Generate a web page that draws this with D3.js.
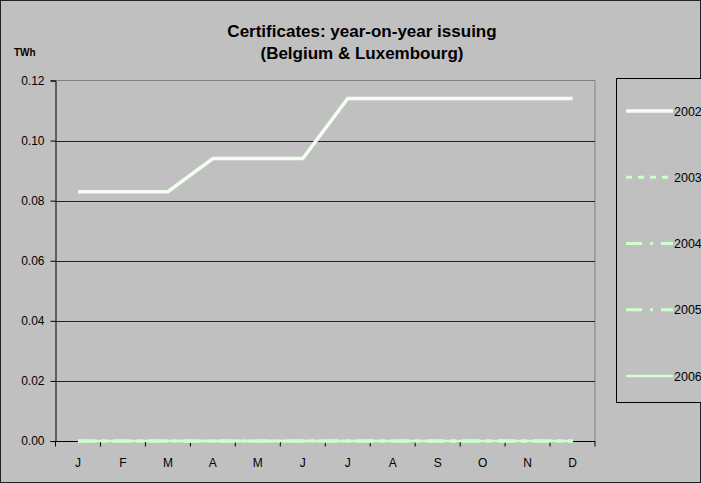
<!DOCTYPE html>
<html>
<head>
<meta charset="utf-8">
<script src="https://cdn.jsdelivr.net/npm/d3@7/dist/d3.min.js"></script>
<style>
  html, body { margin: 0; padding: 0; background: #c0c0c0; }
  svg { display: block; font-family: Arial, "Liberation Sans", sans-serif; }
</style>
</head>
<body>
<svg id="chart" width="701" height="483"></svg>
<script>
const months = ["J","F","M","A","M","J","J","A","S","O","N","D"];
const seriesNames = ["2002","2003","2004","2005","2006"];
const v2002 = [0.083,0.083,0.083,0.094,0.094,0.094,0.114,0.114,0.114,0.114,0.114,0.114];
const v2003 = [0,0,0,0,0,0,0,0,0,0,0,0];
const v2004 = [0,0,0,0,0,0,0,0,0,0,0,0];
const v2005 = [0,0,0,0,0,0,0,0,0,0,0,0];
const v2006 = [0,0,0,0,0,0,0,0,0,0,0,0];
const yTicks = [0,0.02,0.04,0.06,0.08,0.10,0.12];
const titleLines = ["Certificates: year-on-year issuing","(Belgium & Luxembourg)"];
const yUnit = "TWh";

const seriesValues = [v2002, v2003, v2004, v2005, v2006];
const styles = [
  {color:"#f2fff0", width:3.5, dash:null},
  {color:"#ccffcc", width:3, dash:"6,6"},
  {color:"#ccffcc", width:3, dash:"16,8,3,8"},
  {color:"#ccffcc", width:3, dash:"16,8,3,8"},
  {color:"#ccffcc", width:2.5, dash:null}
];

const svg = d3.select("#chart");
const W = 701, H = 483;
const plot = {left:55.5, right:595, top:80.5, bottom:441};

svg.append("rect").attr("x",0.5).attr("y",0.5).attr("width",W-1).attr("height",H-1)
  .attr("fill","#c0c0c0").attr("stroke","#222").attr("stroke-width",1);

const x = d3.scaleBand().domain(d3.range(12)).range([plot.left, plot.right]);
const y = d3.scaleLinear().domain([0,0.12]).range([plot.bottom, plot.top]);

// plot border (top/right gray)
svg.append("path")
  .attr("d", `M${plot.left},${plot.top}H${plot.right}V${plot.bottom}`)
  .attr("fill","none").attr("stroke","#808080").attr("stroke-width",1);

// gridlines
svg.append("g").selectAll("line").data(yTicks.filter(t => t>0 && t<0.12)).join("line")
  .attr("x1",plot.left).attr("x2",plot.right)
  .attr("y1",d=>Math.round(y(d))+0.5).attr("y2",d=>Math.round(y(d))+0.5)
  .attr("stroke","#222").attr("stroke-width",1);

// y axis
const yAxis = d3.axisLeft(y).tickValues(yTicks).tickFormat(d3.format(".2f")).tickSize(5).tickPadding(6);
const gy = svg.append("g").attr("transform",`translate(${plot.left},0)`).call(yAxis);
gy.select(".domain").attr("stroke","#000");
gy.selectAll(".tick line").attr("stroke","#000");
gy.selectAll(".tick text").attr("font-size","12px").attr("fill","#000")
  .attr("font-family","Arial, 'Liberation Sans', sans-serif");

// x axis with ticks at category boundaries
const gx = svg.append("g").attr("transform",`translate(0,${plot.bottom})`);
gx.append("line").attr("x1",plot.left).attr("x2",plot.right).attr("y1",0.5).attr("y2",0.5).attr("stroke","#000");
const bounds = d3.range(13).map(i => plot.left + i*x.step());
gx.selectAll("line.tk").data(bounds).join("line").attr("class","tk")
  .attr("x1",d=>d).attr("x2",d=>d).attr("y1",0).attr("y2",5.5).attr("stroke","#000");
gx.selectAll("text").data(months).join("text")
  .attr("x",(d,i)=>x(i)+x.bandwidth()/2).attr("y",26)
  .attr("text-anchor","middle").attr("font-size","12px").attr("fill","#000").text(d=>d);

// lines
const line = d3.line().x((d,i)=>x(i)+x.bandwidth()/2).y(d=>y(d)).defined(d=>d!=null);
const order = [4,3,2,1,0];
order.forEach(si => {
  const st = styles[si];
  svg.append("path").datum(seriesValues[si])
    .attr("d", line).attr("fill","none")
    .attr("stroke", st.color).attr("stroke-width", st.width)
    .attr("stroke-dasharray", st.dash).attr("stroke-linejoin","miter");
});

// title
svg.append("g").selectAll("text").data(titleLines).join("text")
  .attr("x",362).attr("y",(d,i)=>37+i*22)
  .attr("text-anchor","middle").attr("font-weight","bold").attr("font-size","17px")
  .attr("fill","#000").text(d=>d);

// unit label
svg.append("text").attr("x",14).attr("y",56).attr("font-weight","bold")
  .attr("font-size","10px").attr("fill","#000").text(yUnit);

// legend
const lg = svg.append("g");
lg.append("rect").attr("x",616.5).attr("y",78.5).attr("width",200).attr("height",324)
  .attr("fill","#c0c0c0").attr("stroke","#000").attr("stroke-width",1);
seriesNames.forEach((name,i) => {
  const yy = 111 + i*66.25;
  const st = styles[i];
  lg.append("line").attr("x1",626).attr("x2",673).attr("y1",yy).attr("y2",yy)
    .attr("stroke",st.color).attr("stroke-width",st.width).attr("stroke-dasharray",st.dash);
  lg.append("text").attr("x",674).attr("y",yy+4.5).attr("font-size","12.5px").attr("fill","#000").text(name);
});
</script>
</body>
</html>
